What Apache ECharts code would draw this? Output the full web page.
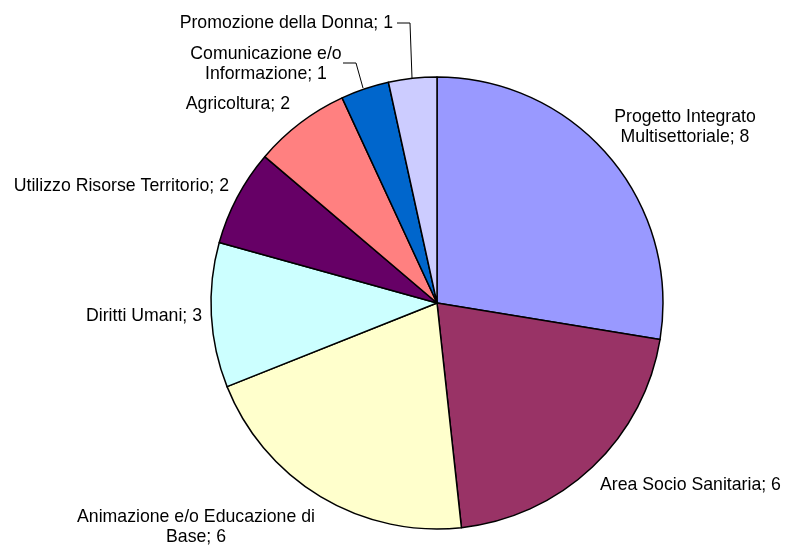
<!DOCTYPE html>
<html>
<head>
<meta charset="utf-8">
<script src="https://cdn.jsdelivr.net/npm/echarts@6/dist/echarts.min.js"></script>
<style>
  html, body { margin: 0; padding: 0; background: #fff; }
  #chart { width: 786px; height: 545px; }
</style>
</head>
<body>
<div id="chart"></div>
<script>
// categories and values, clockwise from 12 o'clock
const categories = [
    'Progetto Integrato\nMultisettoriale',
    'Area Socio Sanitaria',
    'Animazione e/o Educazione di\nBase',
    'Diritti Umani',
    'Utilizzo Risorse Territorio',
    'Agricoltura',
    'Comunicazione e/o\nInformazione',
    'Promozione della Donna'
];
const values = [8, 6, 6, 3, 2, 2, 1, 1];
const colors = ['#9999FF', '#993366', '#FFFFCC', '#CCFFFF', '#660066', '#FF8080', '#0066CC', '#CCCCFF'];

// where each label sits (layout only)
const labelSpots = [
    { x: 685, y: 127, align: 'center' },
    { x: 600, y: 485, align: 'left' },
    { x: 196, y: 527, align: 'center' },
    { x: 202, y: 316, align: 'right' },
    { x: 229, y: 186, align: 'right' },
    { x: 290, y: 104, align: 'right' },
    { x: 266, y: 64, align: 'center', line: [[363, 88], [356, 63], [343, 63]] },
    { x: 393, y: 23, align: 'right', line: [[412, 78], [410, 23], [397, 23]] }
];

const chart = echarts.init(document.getElementById('chart'));

const data = categories.map((name, i) => ({
    name: name,
    value: values[i],
    itemStyle: { color: colors[i] },
    labelLine: { show: !!labelSpots[i].line }
}));

chart.setOption({
    animation: false,
    series: [{
        type: 'pie',
        center: [437, 303],
        radius: 226,
        startAngle: 90,
        clockwise: true,
        avoidLabelOverlap: false,
        itemStyle: { borderColor: '#000', borderWidth: 1.5 },
        label: {
            show: true,
            position: 'outside',
            formatter: '{b}; {c}',
            fontFamily: 'Liberation Sans, Arial, sans-serif',
            fontSize: 17.7,
            lineHeight: 20,
            color: '#000'
        },
        labelLine: {
            lineStyle: { color: '#000', width: 1 }
        },
        labelLayout: function (p) {
            const s = labelSpots[p.dataIndex];
            const out = { x: s.x, y: s.y, align: s.align, verticalAlign: 'middle' };
            if (s.line) out.labelLinePoints = s.line;
            return out;
        },
        emphasis: { disabled: true },
        data: data
    }]
});
</script>
</body>
</html>
